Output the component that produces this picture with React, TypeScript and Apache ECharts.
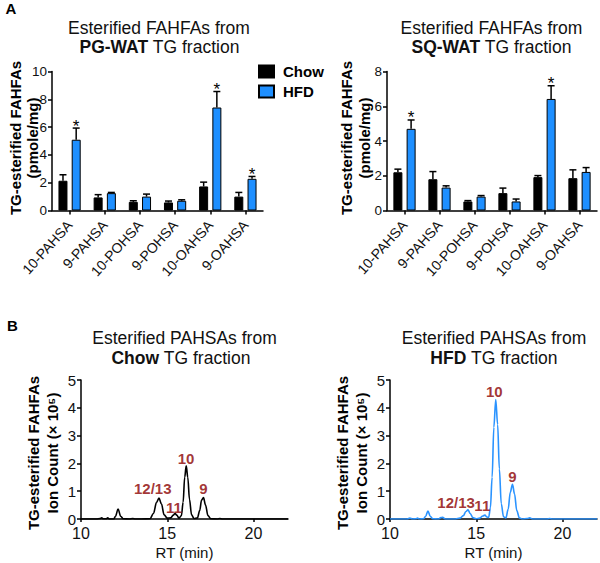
import React, { useEffect, useRef } from "react";
import * as echarts from "echarts";

const FONT = "'Liberation Sans', Arial, Helvetica, sans-serif";
const BLUE = "#1e8fff";
const LINE_BLUE = "#2a93ff";
const RED = "#8b0000";

// Panel A data
const categories = ["10-PAHSA", "9-PAHSA", "10-POHSA", "9-POHSA", "10-OAHSA", "9-OAHSA"];
const pgChow = [2.14, 0.94, 0.62, 0.58, 1.73, 1.0];
const pgChowErr = [0.43, 0.2, 0.08, 0.1, 0.31, 0.3];
const pgHfd = [5.09, 1.25, 1.0, 0.7, 7.41, 2.28];
const pgHfdErr = [0.84, 0.05, 0.18, 0.07, 1.15, 0.17];
const pgSig = [1, 0, 0, 0, 1, 1];
const sqChow = [2.2, 1.8, 0.52, 1.0, 1.92, 1.86];
const sqChowErr = [0.18, 0.44, 0.05, 0.29, 0.09, 0.48];
const sqHfd = [4.7, 1.32, 0.8, 0.52, 6.42, 2.22];
const sqHfdErr = [0.51, 0.1, 0.06, 0.14, 0.76, 0.25];
const sqSig = [1, 0, 0, 0, 1, 0];

// Panel B data: [RT (min), ion count (x10^5)]
const chowTrace = [
  [10, 0], [10.9, 0], [11.1, 0.02], [11.2, 0.04], [11.3, 0.01], [11.45, 0.01], [11.55, 0.04], [11.65, 0],
  [11.9, 0], [12.0, 0.1], [12.15, 0.36], [12.3, 0.1], [12.45, 0.01], [12.8, 0], [13.0, 0.02], [13.15, 0],
  [13.5, 0], [14.0, 0.01], [14.2, 0.2], [14.38, 0.6], [14.52, 0.75], [14.66, 0.55], [14.82, 0.15], [15.0, 0.03],
  [15.2, 0.04], [15.35, 0.14], [15.45, 0.2], [15.55, 0.14], [15.68, 0.03], [15.82, 0.12], [15.92, 0.6],
  [16.01, 1.5], [16.1, 1.91], [16.19, 1.5], [16.29, 0.7], [16.41, 0.15], [16.55, 0.02], [16.75, 0.04],
  [16.88, 0.3], [16.99, 0.68], [17.1, 0.77], [17.22, 0.5], [17.36, 0.12], [17.52, 0.01], [17.9, 0],
  [18.05, 0.02], [18.2, 0], [22, 0],
];
const hfdTrace = [
  [10, 0], [11.0, 0], [11.15, 0.03], [11.3, 0], [11.5, 0.01], [11.6, 0.03], [11.7, 0], [11.95, 0.01],
  [12.07, 0.1], [12.2, 0.29], [12.33, 0.1], [12.48, 0.01], [12.8, 0], [12.95, 0.05], [13.05, 0.06], [13.2, 0],
  [13.8, 0], [14.05, 0.03], [14.25, 0.12], [14.4, 0.27], [14.52, 0.33], [14.65, 0.2], [14.8, 0.05], [15.0, 0.01],
  [15.2, 0.03], [15.38, 0.11], [15.5, 0.14], [15.62, 0.07], [15.72, 0.06], [15.82, 0.4], [15.92, 1.5],
  [16.02, 3.3], [16.13, 4.3], [16.24, 3.4], [16.34, 1.8], [16.45, 0.55], [16.58, 0.08], [16.72, 0.04],
  [16.85, 0.35], [16.97, 0.95], [17.1, 1.25], [17.22, 0.9], [17.35, 0.3], [17.5, 0.04], [17.65, 0],
  [17.95, 0.02], [18.1, 0.04], [18.25, 0], [19.1, 0], [19.25, 0.02], [19.4, 0], [22, 0],
];
const peakNames = ["12/13", "11", "10", "9"];
const chowPeakRT = [14.16, 15.39, 16.09, 17.09];
const chowPeakY = [1.08, 0.41, 2.16, 1.08];
const hfdPeakRT = [13.83, 15.35, 16.05, 17.09];
const hfdPeakY = [0.59, 0.47, 4.58, 1.52];

const axisLine = { show: true, lineStyle: { color: "#000", width: 1.5 } };
const axisTick = { show: true, length: 4, lineStyle: { color: "#000", width: 1.5 } };

function catX(gridIndex: number) {
  return {
    type: "category",
    gridIndex,
    data: categories,
    axisLine,
    axisTick: { ...axisTick, alignWithLabel: true },
    axisLabel: { rotate: 48, interval: 0, fontSize: 14, color: "#111", fontFamily: FONT, margin: 12 },
  };
}
function valY(gridIndex: number, max: number, interval: number, fontSize: number) {
  return {
    type: "value",
    gridIndex,
    min: 0,
    max,
    interval,
    splitLine: { show: false },
    axisLine,
    axisTick,
    axisLabel: { fontSize, color: "#111", fontFamily: FONT, margin: 5 },
  };
}
function rtX(gridIndex: number) {
  return {
    type: "value",
    gridIndex,
    min: 10,
    max: 22,
    interval: 5,
    splitLine: { show: false },
    axisLine,
    axisTick: { ...axisTick, length: 3 },
    axisLabel: { fontSize: 16, color: "#111", fontFamily: FONT, margin: 6, showMaxLabel: false },
    name: "RT (min)",
    nameLocation: "middle",
    nameGap: 26,
    nameTextStyle: { fontSize: 15, color: "#111", fontFamily: FONT },
  };
}

function barSeries(name: string, idx: number, data: number[], color: string) {
  return {
    type: "bar",
    name,
    xAxisIndex: idx,
    yAxisIndex: idx,
    data,
    barWidth: 9,
    barGap: "47%",
    itemStyle: { color, borderColor: "#000", borderWidth: 1 },
    z: 2,
  };
}

function errSeries(idx: number, vals: number[], errs: number[], sig: number[], off: number) {
  return {
    type: "custom",
    xAxisIndex: idx,
    yAxisIndex: idx,
    z: 3,
    silent: true,
    data: vals.map((v, i) => [i, v, errs[i], sig[i]]),
    encode: { x: 0, y: 1 },
    renderItem: (params: any, api: any) => {
      const ci = api.value(0);
      const v = api.value(1);
      const e = api.value(2);
      const s = api.value(3);
      const p0 = api.coord([ci, v]);
      const p1 = api.coord([ci, v + e]);
      const x = p0[0] + off;
      const st = { stroke: "#000", lineWidth: 1.5 };
      const children: any[] = [
        { type: "line", shape: { x1: x, y1: p0[1], x2: x, y2: p1[1] }, style: st },
        { type: "line", shape: { x1: x - 3.5, y1: p1[1], x2: x + 3.5, y2: p1[1] }, style: st },
      ];
      if (s) {
        children.push({
          type: "text",
          x,
          y: p1[1] - 2,
          style: {
            text: "*",
            fill: "#000",
            font: `17px ${FONT}`,
            align: "center",
            verticalAlign: "middle",
            textAlign: "center",
            textVerticalAlign: "middle",
          },
        });
      }
      return { type: "group", children };
    },
  };
}

function peakSeries(idx: number, rt: number[], ys: number[]) {
  return {
    type: "scatter",
    xAxisIndex: idx,
    yAxisIndex: idx,
    symbolSize: 0,
    silent: true,
    data: rt.map((t, i) => ({ name: peakNames[i], value: [t, ys[i]] })),
    label: {
      show: true,
      position: "inside",
      formatter: "{b}",
      color: RED,
      fontWeight: "bold",
      fontSize: 15,
      fontFamily: FONT,
    },
    z: 5,
  };
}

function traceSeries(idx: number, data: number[][], color: string) {
  return {
    type: "line",
    xAxisIndex: idx,
    yAxisIndex: idx,
    data,
    showSymbol: false,
    symbol: "none",
    smooth: 0.35,
    smoothMonotone: "x",
    lineStyle: { color, width: 1.6 },
    silent: true,
  };
}

function txt(x: number, y: number, text: string, font: string, extra: any = {}) {
  return {
    type: "text",
    x,
    y,
    rotation: extra.rotation || 0,
    style: {
      text,
      font,
      fill: extra.fill || "#111",
      align: "center",
      verticalAlign: "middle",
      textAlign: "center",
      textVerticalAlign: "middle",
      rich: extra.rich,
    },
  };
}

const TITLE = `17.5px ${FONT}`;
const YNAME = `bold 15px ${FONT}`;
const richBold = (color: string) => ({
  b: { fontWeight: "bold", fontSize: 17.5, fontFamily: FONT, color },
});

const graphics = [
  txt(11, 8, "A", `bold 15px ${FONT}`, { fill: "#000" }),
  txt(12.5, 325.5, "B", `bold 15px ${FONT}`, { fill: "#000" }),
  txt(159, 28, "Esterified FAHFAs from", TITLE),
  txt(159.5, 47, "{b|PG-WAT} TG fraction", TITLE, { rich: richBold("#000") }),
  txt(491.5, 28, "Esterified FAHFAs from", TITLE),
  txt(491.5, 47, "{b|SQ-WAT} TG fraction", TITLE, { rich: richBold("#000") }),
  txt(184.5, 337.5, "Esterified PAHSAs from", TITLE),
  txt(181, 357.5, "{b|Chow} TG fraction", TITLE, { rich: richBold("#000") }),
  txt(494, 337.5, "Esterified PAHSAs from", TITLE),
  txt(494, 357.5, "{b|HFD} TG fraction", TITLE, { rich: richBold(BLUE) }),
  txt(15, 138, "TG-esterified FAHFAs", YNAME, { rotation: Math.PI / 2, fill: "#000" }),
  txt(32, 138, "(pmole/mg)", YNAME, { rotation: Math.PI / 2, fill: "#000" }),
  txt(346.5, 138, "TG-esterified FAHFAs", YNAME, { rotation: Math.PI / 2, fill: "#000" }),
  txt(364.5, 138, "(pmole/mg)", YNAME, { rotation: Math.PI / 2, fill: "#000" }),
  txt(33.5, 453, "TG-esterified FAHFAs", YNAME, { rotation: Math.PI / 2, fill: "#000" }),
  txt(52, 453, "Ion Count (× 10⁵)", YNAME, { rotation: Math.PI / 2, fill: "#000" }),
  txt(342, 453, "TG-esterified FAHFAs", YNAME, { rotation: Math.PI / 2, fill: "#000" }),
  txt(361, 453, "Ion Count (× 10⁵)", YNAME, { rotation: Math.PI / 2, fill: "#000" }),
];

const option: any = {
  animation: false,
  backgroundColor: "#fff",
  textStyle: { fontFamily: FONT },
  grid: [
    { left: 52, top: 71.5, width: 211, height: 139 },
    { left: 387, top: 71.5, width: 210, height: 139 },
    { left: 81, top: 380, width: 207, height: 139 },
    { left: 390, top: 380, width: 207, height: 139 },
  ],
  xAxis: [catX(0), catX(1), rtX(2), rtX(3)],
  yAxis: [valY(0, 10, 2, 13.5), valY(1, 8, 2, 13.5), valY(2, 5, 1, 15), valY(3, 5, 1, 15)],
  legend: {
    data: ["Chow", "HFD"],
    orient: "vertical",
    left: 258,
    top: 64,
    padding: 0,
    itemWidth: 15,
    itemHeight: 12,
    itemGap: 5,
    selectedMode: false,
    icon: "rect",
    textStyle: { fontSize: 15, fontWeight: "bold", color: "#000", fontFamily: FONT, padding: [0, 0, 0, 4] },
  },
  graphic: graphics,
  series: [
    barSeries("Chow", 0, pgChow, "#000"),
    barSeries("HFD", 0, pgHfd, BLUE),
    errSeries(0, pgChow, pgChowErr, [0, 0, 0, 0, 0, 0], -6.6),
    errSeries(0, pgHfd, pgHfdErr, pgSig, 6.6),
    barSeries("Chow", 1, sqChow, "#000"),
    barSeries("HFD", 1, sqHfd, BLUE),
    errSeries(1, sqChow, sqChowErr, [0, 0, 0, 0, 0, 0], -6.6),
    errSeries(1, sqHfd, sqHfdErr, sqSig, 6.6),
    traceSeries(2, chowTrace, "#000"),
    peakSeries(2, chowPeakRT, chowPeakY),
    traceSeries(3, hfdTrace, LINE_BLUE),
    peakSeries(3, hfdPeakRT, hfdPeakY),
  ],
};

export default function App() {
  const ref = useRef<HTMLDivElement>(null);
  useEffect(() => {
    const chart = echarts.init(ref.current as HTMLDivElement, null, { renderer: "svg" });
    chart.setOption(option);
    return () => chart.dispose();
  }, []);
  return (
    <div
      ref={ref}
      style={{ position: "fixed", left: 0, top: 0, width: 600, height: 563, background: "#fff" }}
    />
  );
}
